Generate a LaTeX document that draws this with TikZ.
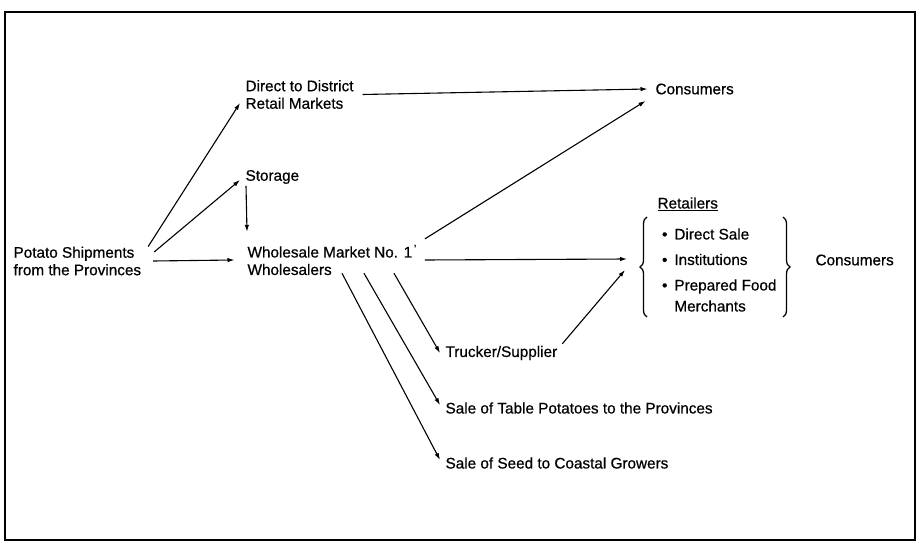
\documentclass[tikz,border=0pt]{standalone}
\usepackage{fontspec}
\setmainfont[FakeBold=0.6]{Liberation Sans}
\usetikzlibrary{arrows.meta,positioning,decorations.pathreplacing}

\begin{document}
\begin{tikzpicture}[x=1pt,y=-1pt,>={Latex[length=7pt,width=4.5pt]},line width=1.1pt,
  font=\fontsize{15.3}{17.5}\selectfont,
  tx/.style={inner sep=1.5pt,anchor=west,align=left},
  brc/.style={line width=1.3pt,decorate,decoration={brace,amplitude=7pt}}]
  \useasboundingbox (0,0) rectangle (918,553);
  \draw[line width=1.2pt] (5,12) rectangle (915,540);
  \node[tx] (ship)    at (11.5,261)  {Potato Shipments\\from the Provinces};
  \node[tx] (direct)  at (243.5,94.5) {Direct to District\\Retail Markets};
  \node[tx] (storage) at (243.5,177) {Storage};
  \node[tx] (whole)   at (245.5,260) {Wholesale Market No. 1\textsuperscript{\,\textquoteright}\\Wholesalers};
  \node[tx] (cons1)   at (653.5,89)  {Consumers};
  \node[tx] (ret)     at (655.5,204) {\underline{Retailers}};
  \node[tx] (rlist)   at (660,270)   {\textbullet\hspace{7pt}Direct Sale\\[8pt]
    \textbullet\hspace{7pt}Institutions\\[8pt]
    \textbullet\hspace{7pt}Prepared Food\\[3.5pt]
    \hphantom{\textbullet\hspace{7pt}}Merchants};
  \node[tx] (cons2)   at (813.5,260) {Consumers};
  \node[tx] (truck)   at (443.5,353) {Trucker/Supplier};
  \node[tx] (table)   at (443.5,408) {Sale of Table Potatoes to the Provinces};
  \node[tx] (seed)    at (443.5,463) {Sale of Seed to Coastal Growers};
  % braces round the retailers
  \draw[brc] (647,317) -- (647,217);
  \draw[brc] (783,217) -- (783,317);
  % flows
  \draw[->] ([xshift=5pt,yshift=-2pt]ship.north east) -- ([xshift=-3.5pt,yshift=-8.5pt]direct.west);
  \draw[->] ([xshift=11pt,yshift=9pt]ship.east) -- ([xshift=-3.5pt,yshift=-3pt]storage.west);
  \draw[->] ([xshift=10pt]ship.east) -- ([xshift=-11pt]whole.west);
  \draw[->] ([xshift=2.5pt]storage.south west) -- ([xshift=1.5pt,yshift=11pt]whole.north west);
  \draw[->] ([xshift=7pt]direct.east) -- ([xshift=-6pt]cons1.west);
  \draw[->] ([xshift=6pt,yshift=4pt]whole.north east) -- ([xshift=-8pt,yshift=-4.5pt]cons1.south west);
  \draw[->] ([xshift=6pt]whole.east) -- ([xshift=-33pt,yshift=11pt]rlist.west);
  \draw[->] ([xshift=-25pt,yshift=4pt]whole.south east) -- ([xshift=-3.5pt]truck.west);
  \draw[->] ([xshift=-55pt,yshift=4pt]whole.south east) -- ([xshift=-3.5pt,yshift=3pt]table.west);
  \draw[->] ([xshift=-77pt,yshift=4pt]whole.south east) -- ([xshift=-3.5pt,yshift=3pt]seed.west);
  \draw[->] ([xshift=3pt]truck.north east) -- ([xshift=-35pt]rlist.west);
\end{tikzpicture}
\end{document}
